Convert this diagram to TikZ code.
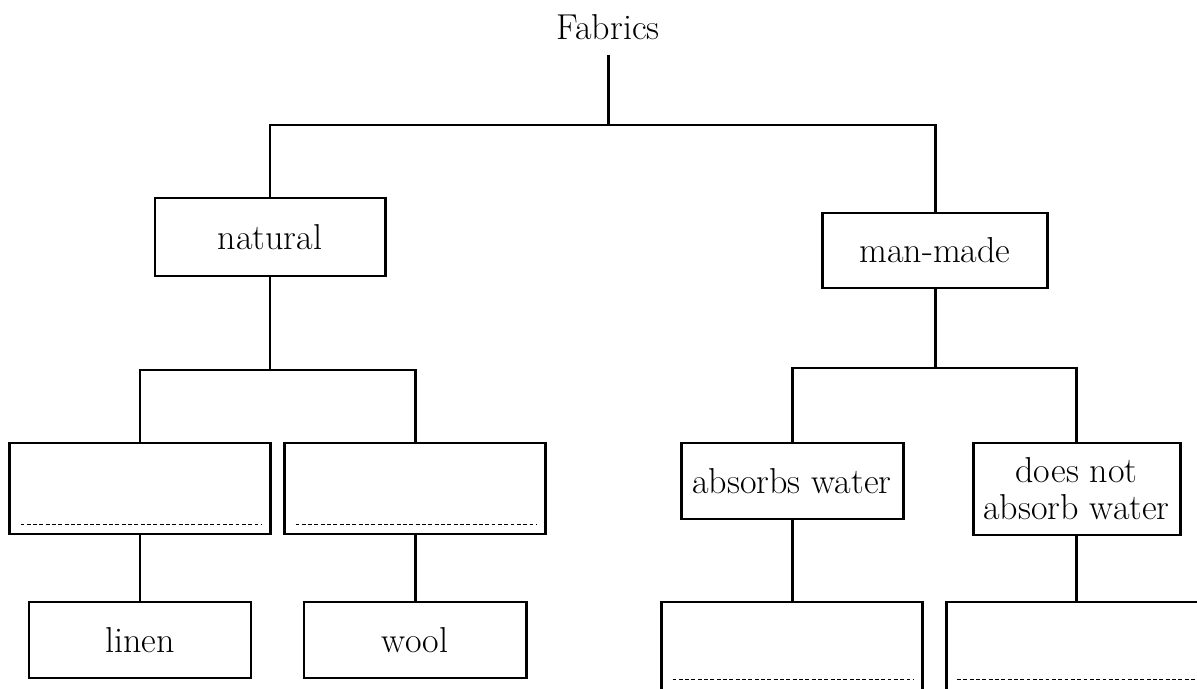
\documentclass[tikz,border=0pt]{standalone}
\usepackage{tikz}
\usetikzlibrary{positioning}

\tikzset{
  item/.style={draw, line width=1.7pt, align=center, inner sep=2pt},
  blank/.style={item, minimum width=5.22cm, minimum height=1.82cm},
  writeline/.style={line width=0.8pt, dash pattern=on 2.2pt off 1.4pt},
  link/.style={line width=1.7pt}
}

\begin{document}
\begin{tikzpicture}[font=\fontsize{20.5}{21}\selectfont]
        \useasboundingbox (0,0) rectangle (23.94,-13.78);
        \clip (0,0) rectangle (23.94,-13.78);
        % Nodes
        \node[inner sep=0.28cm, anchor=base] (fabrics) at (12.16,-0.8) {Fabrics};
        \node[item, minimum width=4.6cm, minimum height=1.56cm] (natural) at (5.4,-4.74) {natural};
        \node[item, minimum width=4.5cm, minimum height=1.5cm] (manmade) at (18.7,-5.01) {man-made};
        \node[blank] (boxA) at (2.8,-9.77) {};
        \node[blank] (boxB) at (8.3,-9.77) {};
        \node[item, minimum width=4.44cm, minimum height=1.52cm] (linen) at (2.8,-12.8) {linen};
        \node[item, minimum width=4.44cm, minimum height=1.52cm] (wool) at (8.3,-12.8) {wool};
        \node[item, minimum width=4.44cm, minimum height=1.52cm] (absorbs) at (15.84,-9.62) {absorbs water};
        \node[item, minimum width=4.14cm, minimum height=1.84cm] (doesnot) at (21.53,-9.78) {does not\\absorb water};
        \node[blank] (boxC) at (15.84,-12.95) {};
        \node[blank] (boxD) at (21.53,-12.95) {};
        % Write-in lines
        \foreach \b/\h in {boxA/0.22,boxB/0.22,boxC/0.3,boxD/0.3}
          \draw[writeline] ([shift={(0.25,\h)}]\b.south west) -- ([shift={(-0.22,\h)}]\b.south east);
        % Branches
        \coordinate (split) at (12.16,-2.5);
        \coordinate (natsplit) at (5.4,-7.4);
        \coordinate (mansplit) at (18.7,-7.36);
        \draw[link] (fabrics) -- (split);
        \draw[link] (natural) |- (split) -| (manmade);
        \draw[link] (natural) -- (natsplit);
        \draw[link] (boxA) |- (natsplit) -| (boxB);
        \draw[link] (boxA) -- (linen);
        \draw[link] (boxB) -- (wool);
        \draw[link] (manmade) -- (mansplit);
        \draw[link] (absorbs) |- (mansplit) -| (doesnot);
        \draw[link] (absorbs) -- (boxC);
        \draw[link] (doesnot) -- (boxD);
    \end{tikzpicture}
\end{document}
